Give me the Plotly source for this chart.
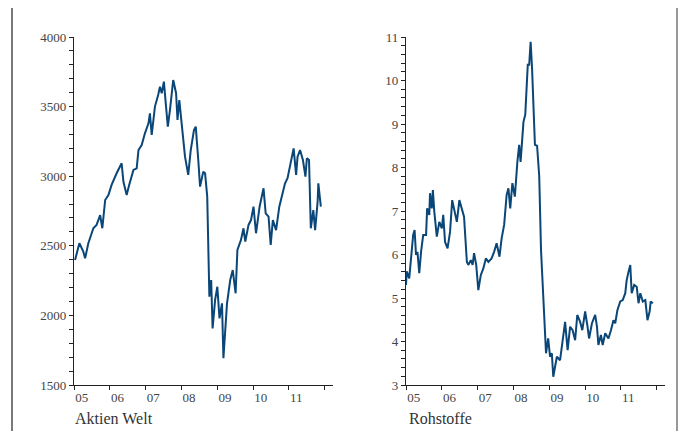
import pandas as pd
import plotly.graph_objects as go

# ---- data ----
aktien_t = [2005.03, 2005.15, 2005.26, 2005.31, 2005.40, 2005.54, 2005.63, 2005.73, 2005.79, 2005.87,
            2005.96, 2006.05, 2006.19, 2006.33, 2006.38, 2006.47, 2006.54, 2006.66, 2006.75, 2006.80,
            2006.89, 2006.98, 2007.08, 2007.12, 2007.17, 2007.26, 2007.35, 2007.40, 2007.45, 2007.51,
            2007.57, 2007.62, 2007.68, 2007.77, 2007.85, 2007.89, 2007.94, 2008.05, 2008.10, 2008.19,
            2008.26, 2008.35, 2008.40, 2008.47, 2008.52, 2008.61, 2008.66, 2008.72, 2008.75, 2008.78,
            2008.83, 2008.87, 2008.94, 2009.00, 2009.06, 2009.13, 2009.17, 2009.27, 2009.36, 2009.43,
            2009.51, 2009.56, 2009.66, 2009.73, 2009.78, 2009.87, 2009.94, 2010.01, 2010.08, 2010.18,
            2010.29, 2010.35, 2010.43, 2010.49, 2010.55, 2010.64, 2010.73, 2010.83, 2010.89, 2010.96,
            2011.03, 2011.13, 2011.20, 2011.24, 2011.31, 2011.39, 2011.46, 2011.50, 2011.56, 2011.61,
            2011.68, 2011.73, 2011.80, 2011.82, 2011.89]
aktien_v = [2398, 2518, 2458, 2410, 2518, 2626, 2650, 2721, 2626, 2829,
            2865, 2937, 3021, 3093, 2960, 2865, 2937, 3045, 3057, 3188,
            3224, 3308, 3380, 3452, 3296, 3500, 3583, 3643, 3596, 3679,
            3500, 3356, 3476, 3691, 3596, 3404, 3547, 3236, 3140, 3009,
            3188, 3332, 3356, 3116, 2925, 3033, 3021, 2853, 2542, 2134,
            2254, 1907, 2111, 2206, 1979, 2087, 1692, 2087, 2254, 2326,
            2159, 2470, 2542, 2626, 2530, 2650, 2685, 2781, 2590, 2781,
            2913, 2733, 2709, 2506, 2685, 2613, 2781, 2901, 2949, 2985,
            3081, 3200, 3009, 3140, 3188, 3116, 2997, 3129, 3116, 2626,
            2757, 2613, 2817, 2949, 2781]

roh_t = [2005.00, 2005.02, 2005.09, 2005.16, 2005.20, 2005.24, 2005.28, 2005.32, 2005.37, 2005.42,
         2005.48, 2005.56, 2005.59, 2005.65, 2005.67, 2005.72, 2005.75, 2005.79, 2005.86, 2005.93,
         2006.00, 2006.04, 2006.09, 2006.16, 2006.23, 2006.29, 2006.35, 2006.42, 2006.49, 2006.56,
         2006.62, 2006.70, 2006.74, 2006.81, 2006.86, 2006.90, 2006.96, 2007.02, 2007.09, 2007.16,
         2007.23, 2007.30, 2007.39, 2007.46, 2007.53, 2007.61, 2007.67, 2007.74, 2007.81, 2007.86,
         2007.91, 2007.97, 2008.04, 2008.11, 2008.16, 2008.20, 2008.28, 2008.33, 2008.37, 2008.40,
         2008.44, 2008.48, 2008.52, 2008.56, 2008.60, 2008.66, 2008.72, 2008.77, 2008.82, 2008.86,
         2008.91, 2008.97, 2009.02, 2009.07, 2009.11, 2009.16, 2009.21, 2009.30, 2009.35, 2009.44,
         2009.51, 2009.58, 2009.65, 2009.72, 2009.78, 2009.86, 2009.92, 2010.00, 2010.06, 2010.11,
         2010.19, 2010.28, 2010.33, 2010.37, 2010.44, 2010.49, 2010.56, 2010.65, 2010.72, 2010.79,
         2010.84, 2010.90, 2010.98, 2011.05, 2011.12, 2011.16, 2011.21, 2011.26, 2011.30, 2011.37,
         2011.44, 2011.49, 2011.54, 2011.61, 2011.68, 2011.74, 2011.80, 2011.83, 2011.89]
roh_v = [5.30, 5.61, 5.45, 6.14, 6.45, 6.56, 5.99, 6.06, 5.57, 6.06,
         6.45, 6.45, 7.06, 6.91, 7.41, 7.06, 7.48, 6.98, 6.41, 6.75,
         6.60, 6.91, 6.29, 6.14, 6.52, 7.25, 6.98, 6.75, 7.25, 7.06,
         6.87, 5.83, 5.76, 5.87, 5.76, 6.03, 5.76, 5.18, 5.53, 5.68,
         5.91, 5.83, 5.91, 6.06, 6.26, 5.95, 6.37, 6.68, 7.37, 7.52,
         7.06, 7.64, 7.33, 8.13, 8.52, 8.13, 9.05, 9.21, 9.90, 10.36,
         10.36, 10.89, 10.28, 9.28, 8.52, 8.50, 7.80, 6.10, 5.18, 4.57,
         3.73, 4.07, 3.65, 3.73, 3.19, 3.42, 3.65, 3.57, 3.88, 4.45,
         3.80, 4.34, 4.26, 4.03, 4.61, 4.45, 4.26, 4.69, 4.38, 4.07,
         4.42, 4.61, 4.34, 3.92, 4.15, 3.92, 4.19, 4.07, 4.26, 4.49,
         4.42, 4.72, 4.92, 4.95, 5.11, 5.41, 5.60, 5.76, 5.11, 5.30,
         5.26, 4.88, 5.11, 4.92, 4.95, 4.49, 4.69, 4.92, 4.88]

tick_years = [2005, 2006, 2007, 2008, 2009, 2010, 2011, 2012]
tick_labels = ["05", "06", "07", "08", "09", "10", "11", ""]
panel_titles = ["Aktien Welt", "Rohstoffe"]


def to_date(y):
    yi = int(y)
    return pd.Timestamp(yi, 1, 1) + pd.Timedelta(days=(y - yi) * 365.25)


LINE = "#0a4677"
FONT = "Liberation Serif"
OX, OY = 8, 8  # page body offset
W, H = 687 - OX, 439 - 2 * OY


def px(xs):
    return (xs - OX) / W


def py(ys):
    return 1 - (ys - OY) / H


fig = go.Figure()
fig.add_trace(go.Scatter(x=[to_date(t) for t in aktien_t], y=aktien_v, mode="lines",
                         line=dict(color=LINE, width=2), xaxis="x", yaxis="y", showlegend=False))
fig.add_trace(go.Scatter(x=[to_date(t) for t in roh_t], y=roh_v, mode="lines",
                         line=dict(color=LINE, width=2), xaxis="x2", yaxis="y2", showlegend=False))

tickvals = [pd.Timestamp(y, 1, 1) for y in tick_years]
xrange_ = [pd.Timestamp(2005, 1, 1), pd.Timestamp(2012, 3, 25)]

xcommon = dict(type="date", range=xrange_, tickvals=tickvals, ticktext=tick_labels,
               ticks="outside", ticklen=4, tickwidth=1, tickcolor="#222", automargin=False,
               showline=True, linecolor="#222", linewidth=1.3, showgrid=False, zeroline=False,
               ticklabelposition="outside right",
               tickfont=dict(family=FONT, size=13, color="#444"))
ycommon = dict(ticks="outside", ticklen=4, tickwidth=1, tickcolor="#222", automargin=False,
               showline=True, linecolor="#222", linewidth=1.3, showgrid=False, zeroline=False,
               tickfont=dict(family=FONT, size=13, color="#444"))

ydom = [py(385), py(37)]
fig.update_layout(
    width=W, height=H, margin=dict(l=0, r=0, t=0, b=0),
    paper_bgcolor="white", plot_bgcolor="white",
    xaxis=dict(domain=[px(74), px(333)], anchor="y", **xcommon),
    yaxis=dict(domain=ydom, anchor="x", range=[1500, 4000], tickvals=[1500, 2000, 2500, 3000, 3500, 4000],
               minor=dict(dtick=100, ticks="outside", ticklen=4, tickcolor="#222", showgrid=False),
               **ycommon),
    xaxis2=dict(domain=[px(406), px(665)], anchor="y2", **xcommon),
    yaxis2=dict(domain=ydom, anchor="x2", range=[3, 11], tickvals=list(range(3, 12)),
                minor=dict(dtick=0.2, ticks="outside", ticklen=4, tickcolor="#222", showgrid=False),
                **ycommon),
)

for xs, txt in zip([73, 407], panel_titles):
    fig.add_annotation(x=px(xs), y=py(418), xref="paper", yref="paper", text=txt,
                       showarrow=False, xanchor="left", yanchor="middle",
                       font=dict(family=FONT, size=16, color="#333"))

fig.add_shape(type="line", xref="paper", yref="paper", x0=px(12), x1=px(12), y0=-0.1, y1=1.1,
              line=dict(color="#222", width=1.2))
fig.add_shape(type="line", xref="paper", yref="paper", x0=px(677), x1=px(677), y0=-0.1, y1=1.1,
              line=dict(color="#999", width=2))

fig.write_html("out.html")
